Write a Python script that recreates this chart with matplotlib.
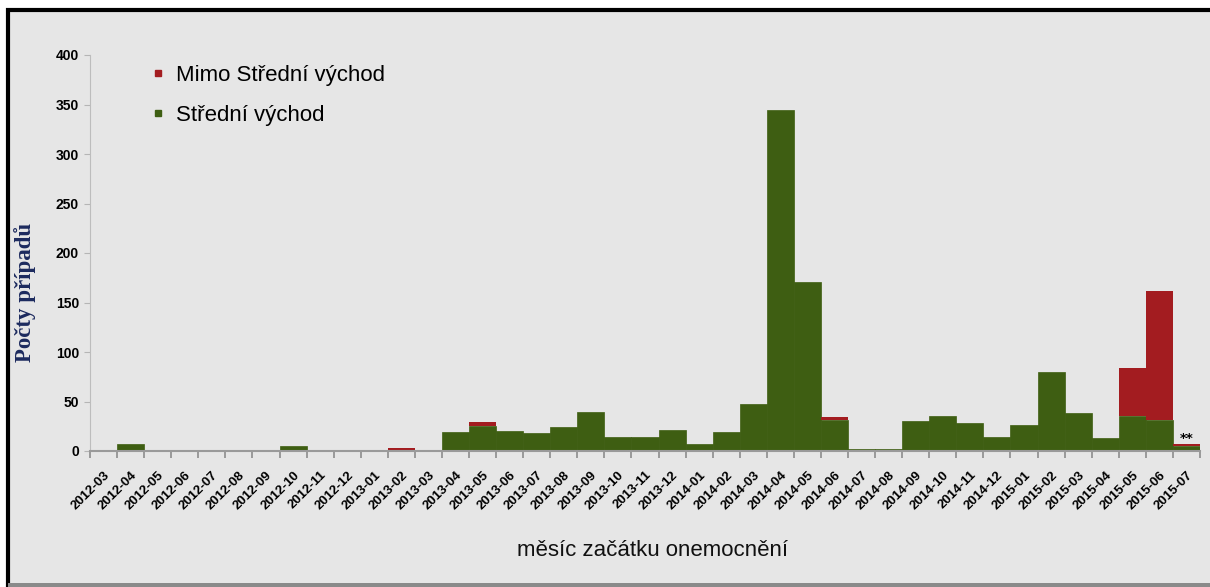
import numpy as np
import matplotlib.pyplot as plt
import matplotlib.transforms as mtransforms
from matplotlib.patches import Rectangle
from matplotlib.lines import Line2D

# Dane
mesice = ['2012-03', '2012-04', '2012-05', '2012-06', '2012-07', '2012-08',
          '2012-09', '2012-10', '2012-11', '2012-12', '2013-01', '2013-02',
          '2013-03', '2013-04', '2013-05', '2013-06', '2013-07', '2013-08',
          '2013-09', '2013-10', '2013-11', '2013-12', '2014-01', '2014-02',
          '2014-03', '2014-04', '2014-05', '2014-06', '2014-07', '2014-08',
          '2014-09', '2014-10', '2014-11', '2014-12', '2015-01', '2015-02',
          '2015-03', '2015-04', '2015-05', '2015-06', '2015-07']
stredni_vychod = [1, 7, 0, 1, 0, 0, 1, 5, 0, 0, 1, 1,
                  1, 19, 25, 20, 18, 24, 39, 14, 14, 21, 7, 19,
                  47, 344, 171, 31, 2, 2, 30, 35, 28, 14, 26, 80,
                  38, 13, 35, 31, 5]
mimo_stredni_vychod = [0, 0, 0, 0, 0, 0, 0, 0, 0, 0, 0, 2,
                       0, 0, 4, 0, 0, 0, 0, 0, 0, 0, 0, 0,
                       0, 0, 0, 3, 0, 0, 0, 0, 0, 0, 0, 0,
                       0, 0, 49, 131, 2]

zelena = '#3e5e12'
cervena = '#a31c20'
pozadi = '#e6e6e6'

fig = plt.figure(figsize=(12.1, 5.87), dpi=100, facecolor='white')

# ramecek
fig.patches.append(Rectangle((8 / 1210, -0.02), 1.05, 1 - 10 / 587 + 0.02,
                             transform=fig.transFigure, facecolor=pozadi,
                             edgecolor='black', linewidth=3, zorder=-2))
fig.patches.append(Rectangle((8 / 1210, 0), 1.0, 4 / 587,
                             transform=fig.transFigure, facecolor='#8a8a8a',
                             edgecolor='none', zorder=-1))

ax = fig.add_axes([90 / 1210, 1 - 451 / 587, 1110 / 1210, 396 / 587])
ax.set_facecolor('none')
ax.set_zorder(5)

x = np.arange(len(mesice))
sv = np.array(stredni_vychod)
msv = np.array(mimo_stredni_vychod)
ax.bar(x, sv, width=1.0, color=zelena, edgecolor=zelena, linewidth=0.5)
ax.bar(x, msv, width=1.0, bottom=sv, color=cervena, linewidth=0)

ax.annotate('**', (x[-1], sv[-1] + msv[-1]), xytext=(0, -1), textcoords='offset points',
            ha='center', va='bottom', fontsize=9.5, fontweight='bold')

ax.set_xlim(-0.5, len(mesice) - 0.5)
ax.set_ylim(0, 400)
ax.set_yticks(np.arange(0, 401, 50))
ax.set_xticks(x)
ax.set_xticks(np.arange(len(mesice) + 1) - 0.5, minor=True)
ax.set_xticklabels(mesice, rotation=45, ha='right', rotation_mode='anchor',
                   fontsize=9.5, fontweight='bold', family='Liberation Sans')
posun = mtransforms.ScaledTranslation(5 / 100, 0, fig.dpi_scale_trans)
for lab in ax.get_xticklabels():
    lab.set_transform(lab.get_transform() + posun)
for lab in ax.get_yticklabels():
    lab.set_fontsize(10)
    lab.set_fontweight('bold')
    lab.set_family('Liberation Sans')

ax.tick_params(axis='x', which='major', length=0, pad=13)
ax.tick_params(axis='x', which='minor', length=5, color='#8c8c8c', width=1.2)
ax.tick_params(axis='y', length=4, color='#b5b5b5', pad=4)

for s in ['top', 'right']:
    ax.spines[s].set_visible(False)
ax.spines['left'].set_color('#bdbdbd')
ax.spines['bottom'].set_color('#9a9a9a')
ax.spines['bottom'].set_linewidth(1.5)

fig.text(25 / 1210, 1 - 292 / 587, 'Počty případů', rotation=90, ha='center', va='center',
         fontsize=16.5, fontweight='bold', family='Liberation Serif', color='#1c2a5e')
fig.text(652 / 1210, 1 - 551 / 587, 'měsíc začátku onemocnění', ha='center', va='center',
         fontsize=16, family='Liberation Sans', color='#111111')

handles = [Line2D([], [], marker='s', linestyle='none', color=cervena, markersize=5),
           Line2D([], [], marker='s', linestyle='none', color=zelena, markersize=5)]
ax.legend(handles, ['Mimo Střední východ', 'Střední východ'], loc='upper left',
          bbox_to_anchor=(0.037, 1.025), frameon=False, handlelength=0.6,
          handletextpad=0.5, labelspacing=0.85,
          prop={'family': 'Liberation Sans', 'size': 16})

fig.savefig('out.png', dpi=100, facecolor='white')
